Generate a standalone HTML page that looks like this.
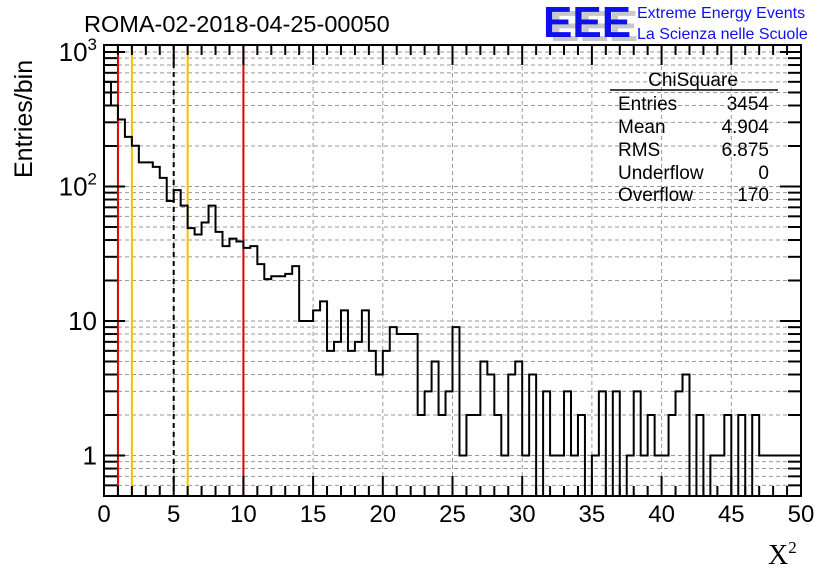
<!DOCTYPE html>
<html><head><meta charset="utf-8"><style>
body{margin:0;background:#fff}
svg{display:block;font-family:"Liberation Sans",sans-serif}
</style></head><body>
<svg id="chart" width="836" height="572" viewBox="0 0 836 572">
<g id="grid"></g>
<g id="vlines"></g>
<path id="hist" fill="none" stroke="#000" stroke-width="2"/>
<rect x="104" y="45" width="697" height="451" fill="none" stroke="#000" stroke-width="2"/>
<g id="ticks"></g>
<g id="xlabels" font-size="24" text-anchor="middle"></g>
<g id="ylabels" font-size="26" text-anchor="end"></g>
<text transform="translate(32,178) rotate(-90)" font-size="25">Entries/bin</text>
<text x="768" y="564" font-family="Liberation Serif,serif" font-size="28">X<tspan font-size="17" dy="-11">2</tspan></text>
<text x="84" y="32" font-size="23.5">ROMA-02-2018-04-25-00050</text>
<g font-weight="bold" font-size="44">
<text x="550" y="41" fill="#c8c8c8">EEE</text>
<text x="543" y="37" fill="#1010ee">EEE</text>
</g>
<text x="637" y="18" font-size="16" fill="#1010ee">Extreme Energy Events</text>
<text x="637" y="39" font-size="16" fill="#1010ee">La Scienza nelle Scuole</text>
<g font-size="19">
<text x="693" y="86" text-anchor="middle">ChiSquare</text>
<line x1="610" y1="90" x2="778" y2="90" stroke="#000" stroke-width="1.5"/>
<text x="618" y="110">Entries</text><text x="769" y="110" text-anchor="end">3454</text>
<text x="618" y="133">Mean</text><text x="769" y="133" text-anchor="end">4.904</text>
<text x="618" y="156">RMS</text><text x="769" y="156" text-anchor="end">6.875</text>
<text x="618" y="179">Underflow</text><text x="769" y="179" text-anchor="end">0</text>
<text x="618" y="201">Overflow</text><text x="769" y="201" text-anchor="end">170</text>
</g>
</svg>
<script>
const counts = [600,400,315,234,201,151,151,140,116,78,94,72,49,44,54,72,46,36,41,39,
35,36,26.5,20.5,21.5,21.5,22.4,25.6,10,10,12,14,6,7,12,6,7,12,6,4,
6,9,8,8,8,2,3,5,2,3,9,1,2,2,5,4,2,1,4,5,1,4,0,3,1,1,3,1,2,0,
1,3,0,3,0,1,3,1,2,1,1,2,3,4,0,2,0,1,1,2,0,2,0,2,1,1,1,1,1,1];
const binWidth = 0.5;
const xTicks = [0,5,10,15,20,25,30,35,40,45,50];
const yTickVals = [1,10,100,1000];
const yTickBase = ["1","10","10","10"];
const yTickExp = ["","","2","3"];
const refLines = [{x:1,c:"#e00000",d:""},{x:2,c:"#f5c000",d:""},{x:5,c:"#000",d:"5,4"},{x:6,c:"#f5c000",d:""},{x:10,c:"#e00000",d:""}];

const X0=104,X1=801,Y0=496,Y1=45, XMIN=0,XMAX=50, LMIN=Math.log10(0.5), LMAX=Math.log10(1127);
const sx=v=>X0+(v-XMIN)/(XMAX-XMIN)*(X1-X0);
const sy=v=>v<=0.5?Y0:Y0-(Math.log10(v)-LMIN)/(LMAX-LMIN)*(Y0-Y1);
const NS="http://www.w3.org/2000/svg";
function mk(tag,attrs,parent){const e=document.createElementNS(NS,tag);for(const k in attrs)e.setAttribute(k,attrs[k]);parent.appendChild(e);return e;}
const grid=document.getElementById('grid'),ticks=document.getElementById('ticks');
xTicks.forEach(v=>{const l=mk('line',{x1:sx(v),x2:sx(v),y1:Y1,y2:Y0,stroke:'#999','stroke-dasharray':'4,3','stroke-width':1},grid);

});
for(let d=0.1;d<=1000;d*=10){for(let m=1;m<=9;m++){const v=Math.round(d*m*1000)/1000;if(v<0.5||v>1127)continue;
const y=sy(v);const l=mk('line',{x1:X0,x2:X1,y1:y,y2:y,stroke:'#999','stroke-dasharray':'4,3','stroke-width':1},grid);


const len=m===1?21:13;
const t1=mk('line',{x1:X0,x2:X0+len,y1:y,y2:y,stroke:'#000','stroke-width':2},ticks);


const t2=mk('line',{x1:X1-len,x2:X1,y1:y,y2:y,stroke:'#000','stroke-width':2},ticks);

}}
for(let v=0;v<=50;v++){const len=v%5===0?20:10;const x=sx(v);
const a=mk('line',{x1:x,x2:x,y1:Y0,y2:Y0-len,stroke:'#000','stroke-width':2},ticks);


const b=mk('line',{x1:x,x2:x,y1:Y1,y2:Y1+len,stroke:'#000','stroke-width':2},ticks);

}
const xl=document.getElementById('xlabels');
xTicks.forEach(v=>{const t=mk('text',{x:sx(v),y:522},xl);t.textContent=v;

});
const yl=document.getElementById('ylabels');
yTickVals.forEach((v,i)=>{const t=mk('text',{x:97,y:sy(v)+9},yl);


t.appendChild(document.createTextNode(yTickBase[i]));
if(yTickExp[i]){const s=mk('tspan',{'font-size':17,dy:-11},t);s.textContent=yTickExp[i];}});
const vg=document.getElementById('vlines');
refLines.forEach(r=>{const l=mk('line',{x1:sx(r.x),x2:sx(r.x),y1:Y1,y2:Y0,stroke:r.c,'stroke-width':2},vg);
if(r.d)l.setAttribute('stroke-dasharray',r.d);

});
let d='M'+sx(0)+','+Y0;
counts.forEach((c,i)=>{const y=sy(c);d+=' L'+sx(i*binWidth)+','+y+' L'+sx((i+1)*binWidth)+','+y;});
d+=' L'+sx(counts.length*binWidth)+','+Y0;
document.getElementById('hist').setAttribute('d',d);
</script>
</body></html>
